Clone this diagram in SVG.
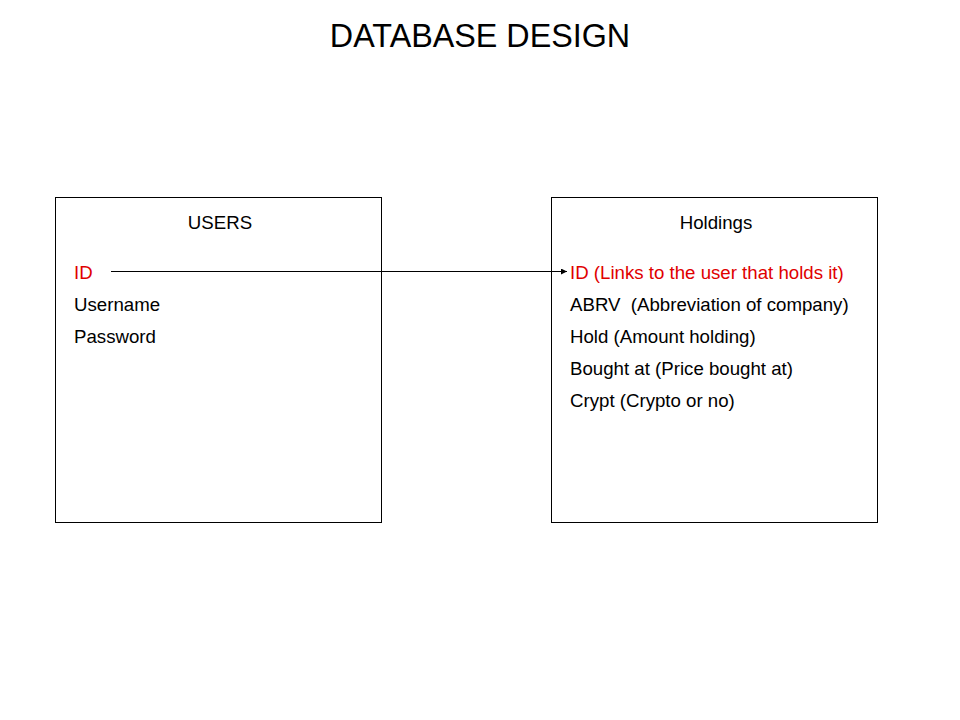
<svg xmlns="http://www.w3.org/2000/svg" width="960" height="720" viewBox="0 0 960 720">
<style>
text{font-family:"Liberation Sans",Arial,sans-serif;font-size:18.67px;fill:#000}
.t{font-size:32.3px}
.k{fill:#e00000}
.box{fill:#fff;stroke:#000;stroke-width:1}
</style>
<defs>
<marker id="ah" viewBox="0 0 10 10" refX="10" refY="5" markerWidth="6" markerHeight="6" markerUnits="userSpaceOnUse" orient="auto">
<path d="M0,0 L10,5 L0,10 z" fill="#000"/>
</marker>
</defs>
<rect width="960" height="720" fill="#fff"/>
<text class="t" x="480" y="47" text-anchor="middle">DATABASE DESIGN</text>
<g id="users">
<rect class="box" x="55.5" y="197.5" width="326" height="325"/>
<text x="220" y="229" text-anchor="middle">USERS</text>
<text class="k" x="74" y="279">ID</text>
<text x="74" y="311">Username</text>
<text x="74" y="343">Password</text>
</g>
<g id="holdings">
<rect class="box" x="551.5" y="197.5" width="326" height="325"/>
<text x="716" y="229" text-anchor="middle">Holdings</text>
<text class="k" x="570" y="279">ID (Links to the user that holds it)</text>
<text x="570" y="311" xml:space="preserve" style="white-space:pre">ABRV  (Abbreviation of company)</text>
<text x="570" y="343">Hold (Amount holding)</text>
<text x="570" y="375">Bought at (Price bought at)</text>
<text x="570" y="407">Crypt (Crypto or no)</text>
</g>
<g id="connectors">
<line x1="111" y1="271.5" x2="567" y2="271.5" stroke="#000" stroke-width="1" marker-end="url(#ah)"/>
</g>
</svg>
